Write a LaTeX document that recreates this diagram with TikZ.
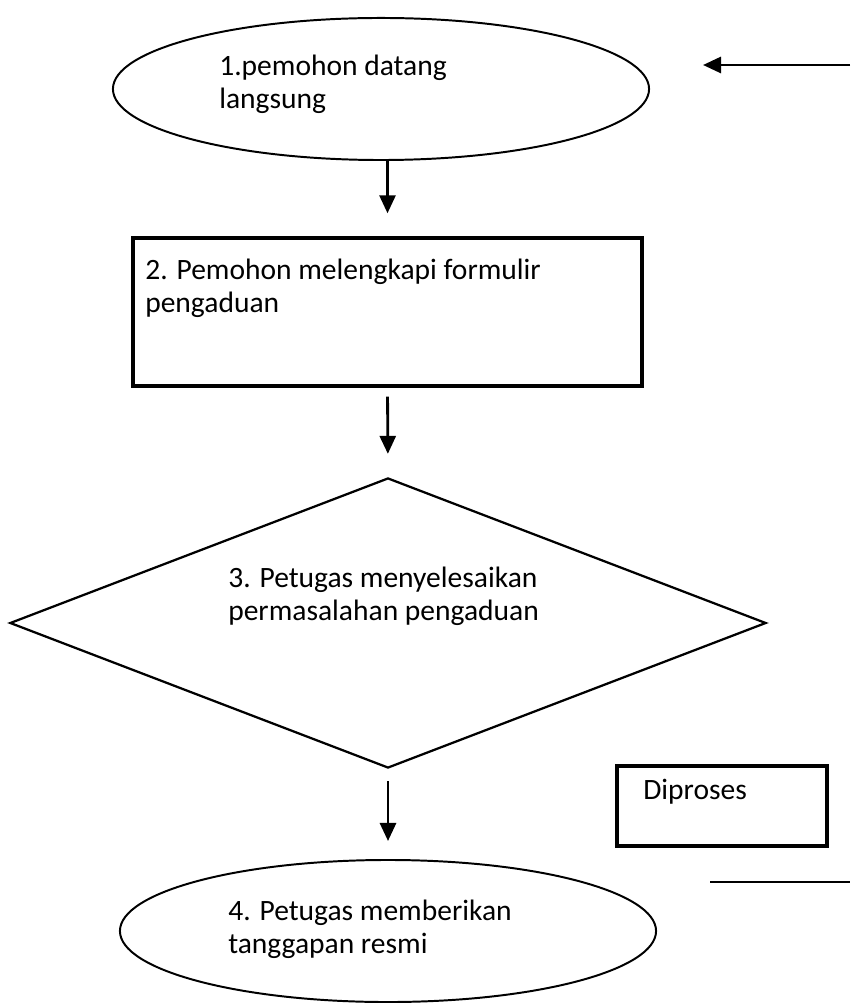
\documentclass[tikz,border=0pt]{standalone}
\usepackage{fontspec}
\setmainfont{Carlito}
\usetikzlibrary{shapes.geometric,arrows.meta}
\begin{document}
\begin{tikzpicture}[x=0.025cm,y=-0.025cm,
    txt/.style={anchor=north west,align=left,inner sep=0pt,font=\fontsize{21pt}{23pt}\selectfont},
    oval/.style={draw,ellipse,line width=1.4pt,inner sep=0pt,minimum width=13.4cm,minimum height=3.55cm},
    arr/.style={line width=2pt,-{Triangle[length=0.45cm,width=0.4cm]}}]
    \useasboundingbox (0,0) rectangle (850,1003);
    % shapes
    \node[oval] (e1) at (381,89) {};
    \node[draw,line width=2.4pt,inner sep=0pt,minimum width=12.72cm,minimum height=3.7cm] (box) at (387.5,312) {};
    \node[draw,diamond,line width=1.6pt,inner sep=0pt,minimum width=18.9cm,minimum height=7.25cm] (dia) at (388,623) {};
    \node[draw,line width=2.4pt,inner sep=0pt,minimum width=5.25cm,minimum height=2cm] (proc) at (722,806) {};
    \node[oval] (e4) at (388,931) {};
    % texts
    \node[txt] (t1) at (219,55) {1.pemohon datang\\langsung};
    \node[txt] (t2) at (145,259) {2. Pemohon melengkapi formulir\\pengaduan};
    \node[txt] (t3) at (228,567) {3. Petugas menyelesaikan\\permasalahan pengaduan};
    \node[txt] (t4) at (228,900) {4. Petugas memberikan\\tanggapan resmi};
    \node[txt] (tp) at (643,779) {Diproses};
    % connectors
    \coordinate (inA) at (850,65);
    \coordinate (inB) at (703,65);
    \coordinate (outA) at (710,882);
    \coordinate (outB) at (850,882);
    \draw[arr] (inA) -- (inB);
    \draw[arr,shorten >=0.575cm] (e1.south -| box.north) -- (box.north);
    \draw[arr,shorten <=0.225cm,shorten >=0.575cm] (box.south) -- (dia.north);
    \draw[arr,shorten <=0.3cm,shorten >=0.45cm] (dia.south) -- (e4.north);
    \draw[line width=2pt] (outA) -- (outB);
\end{tikzpicture}
\end{document}
